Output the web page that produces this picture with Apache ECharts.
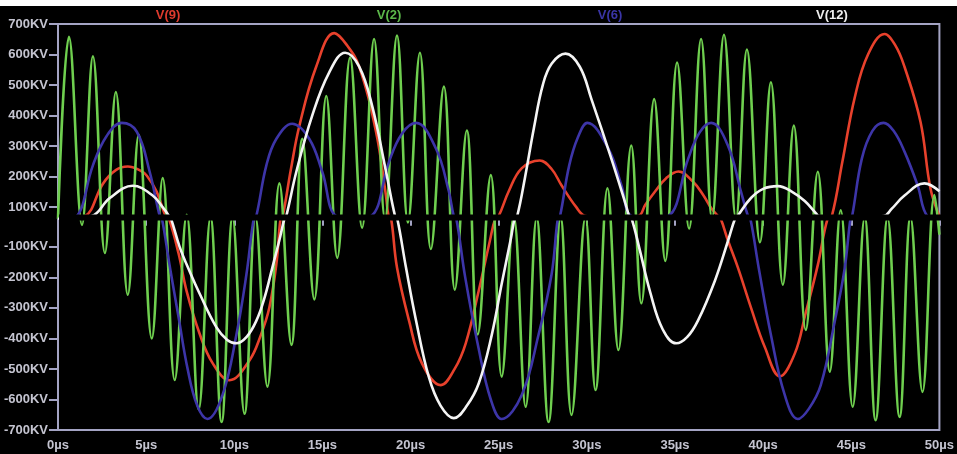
<!DOCTYPE html>
<html>
<head>
<meta charset="utf-8">
<style>
html,body{margin:0;padding:0;background:#fff;}
#chart{width:957px;height:454px;}
</style>
<script src="https://cdn.jsdelivr.net/npm/echarts@6/dist/echarts.min.js"></script>
</head>
<body>
<div id="chart"></div>
<script>
// ---- data (time in µs, voltage in KV) ----
const seriesNames = ['V(9)', 'V(2)', 'V(6)', 'V(12)'];
const seriesColors = ['#e8412c', '#6fcf4f', '#3d35a8', '#f4f4f4'];
const titleColors = ['#de3b2e', '#5cb84a', '#3a35a6', '#eeeeee'];
const timeTicks = [0, 5, 10, 15, 20, 25, 30, 35, 40, 45, 50];
const voltTicks = [-700, -600, -500, -400, -300, -200, -100, 100, 200, 300, 400, 500, 600, 700];
const hiddenBand = [-9, 71];

const v9 = [[0,0],[0.8,30],[1.53,71],[2.55,177],[3.3,222],[3.96,233],[4.6,222],[5.04,203],[5.6,150],[6.1,71],[6.3,-9],[6.84,-122],[7.30,-246],[8.03,-384],[8.77,-481],[9.73,-537],[10.86,-472],[11.5,-390],[11.99,-299],[12.4,-150],[12.62,-9],[12.75,71],[13.2,220],[13.69,366],[14.65,561],[15.67,670],[16.4,630],[17.08,561],[18.04,347],[18.6,140],[18.75,71],[18.9,-9],[19.23,-168],[19.91,-341],[20.64,-481],[21.72,-553],[22.5,-500],[23.13,-416],[23.87,-243],[24.5,-80],[24.8,-9],[25.0,71],[25.57,152],[26.3,227],[27.32,253],[28.0,225],[28.56,172],[29.4,100],[29.92,71],[31.4,20],[32.92,71],[33.31,107],[33.88,152],[34.5,195],[35.2,217],[36.0,185],[36.6,140],[37.05,97],[37.44,71],[37.6,-9],[38.01,-80],[38.57,-168],[39.31,-299],[40.1,-429],[40.95,-524],[41.8,-449],[42.4,-320],[43.1,-160],[43.65,-9],[43.9,71],[44.5,250],[45.2,460],[45.95,600],[46.89,667],[47.5,630],[48.02,560],[48.93,379],[49.49,162],[50,60]];

const v2 = [[0,0],[0.62,658],[1.36,-28],[1.98,594],[2.66,-120],[3.28,477],[3.96,-257],[4.58,337],[5.32,-400],[5.94,195],[6.62,-536],[7.30,75],[7.98,-633],[8.65,30],[9.28,-674],[9.90,30],[10.58,-647],[11.20,50],[11.88,-558],[12.56,178],[13.24,-421],[13.86,324],[14.54,-272],[15.22,464],[15.84,-136],[16.57,590],[17.25,-37],[17.93,651],[18.55,0],[19.23,662],[19.85,-20],[20.53,606],[21.15,-107],[21.89,495],[22.51,-240],[23.19,351],[23.81,-387],[24.55,205],[25.17,-525],[25.85,60],[26.53,-624],[27.15,20],[27.83,-674],[28.51,20],[29.13,-651],[29.92,40],[30.49,-569],[31.17,162],[31.79,-438],[32.52,302],[33.09,-285],[33.82,454],[34.45,-146],[35.12,574],[35.80,-40],[36.48,651],[37.10,10],[37.78,665],[38.46,0],[39.08,616],[39.82,-85],[40.44,509],[41.12,-224],[41.74,367],[42.42,-372],[43.10,216],[43.78,-509],[44.40,90],[45.08,-624],[45.76,30],[46.38,-668],[47.06,20],[47.74,-657],[48.36,40],[49.04,-575],[49.72,140],[50,-60]];

const v6 = [[0,0],[0.5,20],[1.07,71],[1.98,237],[2.77,334],[3.62,376],[4.47,347],[5.2,216],[5.77,71],[5.9,-9],[6.3,-150],[6.85,-334],[7.35,-499],[7.9,-620],[8.48,-664],[9.33,-586],[10.12,-388],[10.69,-190],[11.1,-9],[11.25,71],[11.82,237],[12.39,324],[13.29,373],[14.25,324],[14.99,216],[15.78,71],[16.8,15],[17.76,71],[18.78,249],[19.5,340],[20.31,376],[21.44,292],[22.17,152],[22.45,71],[22.6,-9],[23.1,-200],[23.85,-430],[24.55,-600],[25.17,-664],[26.3,-586],[27.26,-388],[28.0,-190],[28.35,-9],[28.48,71],[29.0,237],[29.5,330],[30.03,376],[31.22,292],[31.96,172],[32.52,71],[33.55,15],[34.62,71],[35.75,259],[36.4,345],[37.05,376],[38.0,302],[38.74,152],[39.14,71],[39.28,-9],[39.75,-169],[40.44,-388],[41.23,-586],[41.97,-664],[42.6,-630],[43.27,-553],[44.06,-345],[44.63,-169],[44.95,-9],[45.05,71],[45.6,259],[46.2,350],[46.83,376],[47.4,350],[48.02,282],[48.76,172],[49.32,71],[50,0]];

const v12 = [[0,0],[1.0,30],[1.92,71],[2.94,130],[4.24,170],[5.37,138],[6.0,95],[6.3,71],[6.42,-9],[6.9,-100],[7.5,-185],[8.03,-253],[8.99,-364],[9.6,-405],[10.12,-416],[10.7,-395],[11.26,-341],[11.7,-270],[12.16,-168],[12.55,-80],[12.84,-9],[12.95,71],[13.52,216],[14.42,400],[15.38,541],[16.29,606],[17.08,561],[17.82,432],[18.61,216],[19.12,71],[19.25,-9],[19.74,-168],[20.31,-341],[21.04,-527],[21.7,-620],[22.45,-661],[23.2,-620],[23.87,-547],[24.6,-390],[25.17,-221],[25.7,-70],[25.9,-9],[26.05,71],[26.5,200],[27.0,360],[27.5,500],[28.0,570],[28.79,603],[29.6,560],[30.26,454],[31.39,259],[32.2,110],[32.4,71],[32.55,-9],[33.0,-110],[33.6,-250],[34.3,-370],[35.07,-416],[35.7,-395],[36.31,-341],[37.27,-210],[38.01,-80],[38.4,-9],[38.55,71],[39.31,130],[40.0,160],[40.84,169],[41.6,152],[42.36,120],[43.0,80],[43.15,71],[45.0,20],[46.85,71],[47.3,95],[48.02,138],[49.15,178],[50,152]];

const allData = [v9, v2, v6, v12];

const frameColor = '#a4a4c4';
const labelColor = '#c4c4d0';
const labelFont = { color: labelColor, fontSize: 13, fontWeight: 'bold', fontFamily: 'Liberation Sans, Arial, sans-serif' };

const chart = echarts.init(document.getElementById('chart'), null, { renderer: 'canvas' });

const series = allData.map((d, i) => ({
  name: seriesNames[i],
  type: 'line',
  data: d,
  smooth: 0.4,
  showSymbol: false,
  clip: true,
  animation: false,
  z: 3 + i,
  lineStyle: { color: seriesColors[i], width: 2.6 },
  itemStyle: { color: seriesColors[i] }
}));

const titleCenters = [168, 389, 610, 832];
const graphics = [
  { type: 'rect', shape: { x: 0, y: 0, width: 957, height: 6 }, style: { fill: '#ffffff', stroke: null, lineWidth: 0 }, z: 300 },
  // black strip that hides the collapsed voltage band, like the cut in the original plot
  { type: 'rect', shape: { x: 59, y: 214.5, width: 883, height: 6 }, style: { fill: '#000000', stroke: null, lineWidth: 0 }, z: 300 }
];
seriesNames.forEach((n, i) => {
  graphics.push({
    type: 'text', x: titleCenters[i], y: 15, z: 300,
    style: { text: n, fill: titleColors[i], font: 'bold 13px "Liberation Sans", Arial, sans-serif', textAlign: 'center', textVerticalAlign: 'middle' }
  });
});

const option = {
  backgroundColor: '#000000',
  animation: false,
  graphic: graphics,
  grid: { left: 58, right: 14, top: 24, bottom: 24, show: true, borderColor: frameColor, borderWidth: 2, backgroundColor: 'transparent' },
  xAxis: {
    type: 'value', min: timeTicks[0], max: timeTicks[timeTicks.length - 1], interval: 5,
    axisLine: { show: true, lineStyle: { color: frameColor, width: 2 } },
    axisTick: { show: true, length: 7, lineStyle: { color: frameColor, width: 2 } },
    axisLabel: Object.assign({ margin: 9, formatter: v => v + 'µs', showMinLabel: true, showMaxLabel: true }, labelFont),
    splitLine: { show: false }
  },
  yAxis: {
    type: 'value', min: -700, max: 700,
    breaks: [{ start: hiddenBand[0], end: hiddenBand[1], gap: '0.75%' }],
    breakArea: {
      show: false,
      itemStyle: { color: 'rgba(0,0,0,0)', borderColor: 'rgba(0,0,0,0)', borderWidth: 0, opacity: 0 },
      zigzagAmplitude: 0,
      zigzagZ: 1,
      expandOnClick: false
    },
    axisLine: { show: false },
    axisTick: { show: true, length: 9, customValues: voltTicks, lineStyle: { color: frameColor, width: 2 } },
    axisLabel: Object.assign({ margin: 10, customValues: voltTicks, formatter: v => (v % 100 === 0 && v !== 0) ? v + 'KV' : '' }, labelFont),
    splitLine: { show: false }
  },
  series: series
};
chart.setOption(option);
</script>
</body>
</html>
